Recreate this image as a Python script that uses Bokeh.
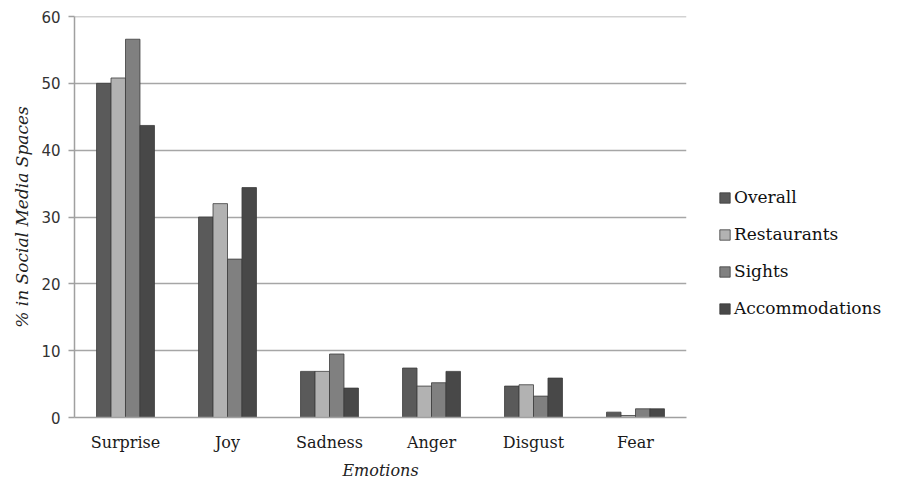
from bokeh.plotting import figure
from bokeh.models import ColumnDataSource, FactorRange, Range1d, Legend, LegendItem, FixedTicker, Span
from bokeh.transform import dodge
from bokeh.embed import file_html
from bokeh.resources import INLINE

categories = ["Surprise", "Joy", "Sadness", "Anger", "Disgust", "Fear"]
overall = [50.0, 30.0, 6.9, 7.4, 4.7, 0.8]
restaurants = [50.8, 32.0, 6.9, 4.7, 4.9, 0.3]
sights = [56.6, 23.7, 9.5, 5.2, 3.2, 1.3]
accommodations = [43.7, 34.4, 4.4, 6.9, 5.9, 1.3]
series_names = ["Overall", "Restaurants", "Sights", "Accommodations"]
series_colors = ["#5a5a5a", "#b2b2b2", "#808080", "#484848"]
y_ticks = [0, 10, 20, 30, 40, 50, 60]

source = ColumnDataSource(data=dict(cat=categories, Overall=overall, Restaurants=restaurants,
                                    Sights=sights, Accommodations=accommodations))

p = figure(frame_width=612, frame_height=401, x_range=FactorRange(*categories), y_range=Range1d(0, 60),
           output_backend="svg", toolbar_location=None,
           min_border_left=74, min_border_right=0, min_border_top=16, min_border_bottom=0)
p.outline_line_color = None
p.background_fill_color = "white"
p.border_fill_color = "white"

bw = 0.142
offsets = [-1.5 * bw, -0.5 * bw, 0.5 * bw, 1.5 * bw]
renderers = []
for name, col, off in zip(series_names, series_colors, offsets):
    r = p.vbar(x=dodge("cat", off, range=p.x_range), top=name, width=bw, source=source,
               fill_color=col, line_color="#3c3c3c", line_width=0.8)
    renderers.append(r)

# top gridline at the range end
p.add_layout(Span(location=y_ticks[-1], dimension="width", line_color="#a6a6a6", line_width=1.5))

# y axis
p.yaxis.ticker = FixedTicker(ticks=y_ticks)
p.yaxis.minor_tick_line_color = None
p.yaxis.major_tick_out = 6
p.yaxis.major_tick_in = 0
p.yaxis.major_tick_line_color = "#a0a0a0"
p.yaxis.major_tick_line_width = 1.5
p.yaxis.axis_line_color = "#a0a0a0"
p.yaxis.axis_line_width = 1.5
p.yaxis.major_label_text_font = "DejaVu Sans"
p.yaxis.major_label_text_font_size = "15px"
p.yaxis.major_label_text_color = "#333333"
p.yaxis.major_label_standoff = 8
p.yaxis.axis_label = "% in Social Media Spaces"
p.yaxis.axis_label_text_font = "DejaVu Serif"
p.yaxis.axis_label_text_font_style = "italic"
p.yaxis.axis_label_text_font_size = "17px"
p.yaxis.axis_label_text_color = "#222222"
p.yaxis.axis_label_standoff = 6

# x axis
p.xaxis.major_tick_line_color = None
p.xaxis.minor_tick_line_color = None
p.xaxis.major_tick_out = 0
p.xaxis.major_tick_in = 0
p.xaxis.axis_line_color = "#a0a0a0"
p.xaxis.axis_line_width = 1.5
p.xaxis.major_label_text_font = "DejaVu Serif"
p.xaxis.major_label_text_font_size = "16px"
p.xaxis.major_label_text_color = "#1a1a1a"
p.xaxis.major_label_standoff = 15
p.xaxis.axis_label = "Emotions"
p.xaxis.axis_label_text_font = "DejaVu Serif"
p.xaxis.axis_label_text_font_style = "italic"
p.xaxis.axis_label_text_font_size = "16px"
p.xaxis.axis_label_text_color = "#222222"
p.xaxis.axis_label_standoff = 6

p.xgrid.grid_line_color = None
p.ygrid.grid_line_color = "#a6a6a6"
p.ygrid.grid_line_width = 1.5

legend = Legend(items=[LegendItem(label=n, renderers=[r]) for n, r in zip(series_names, renderers)],
                location=(32, 99), orientation="vertical")
legend.background_fill_alpha = 0
legend.border_line_color = None
legend.glyph_width = 13
legend.glyph_height = 13
legend.label_standoff = 3
legend.label_height = 20
legend.spacing = 17
legend.padding = 0
legend.margin = 0
legend.label_text_font = "DejaVu Serif"
legend.label_text_font_size = "17px"
legend.label_text_color = "#111111"
p.add_layout(legend, "right")

open("out.html", "w").write(file_html(p, INLINE))
